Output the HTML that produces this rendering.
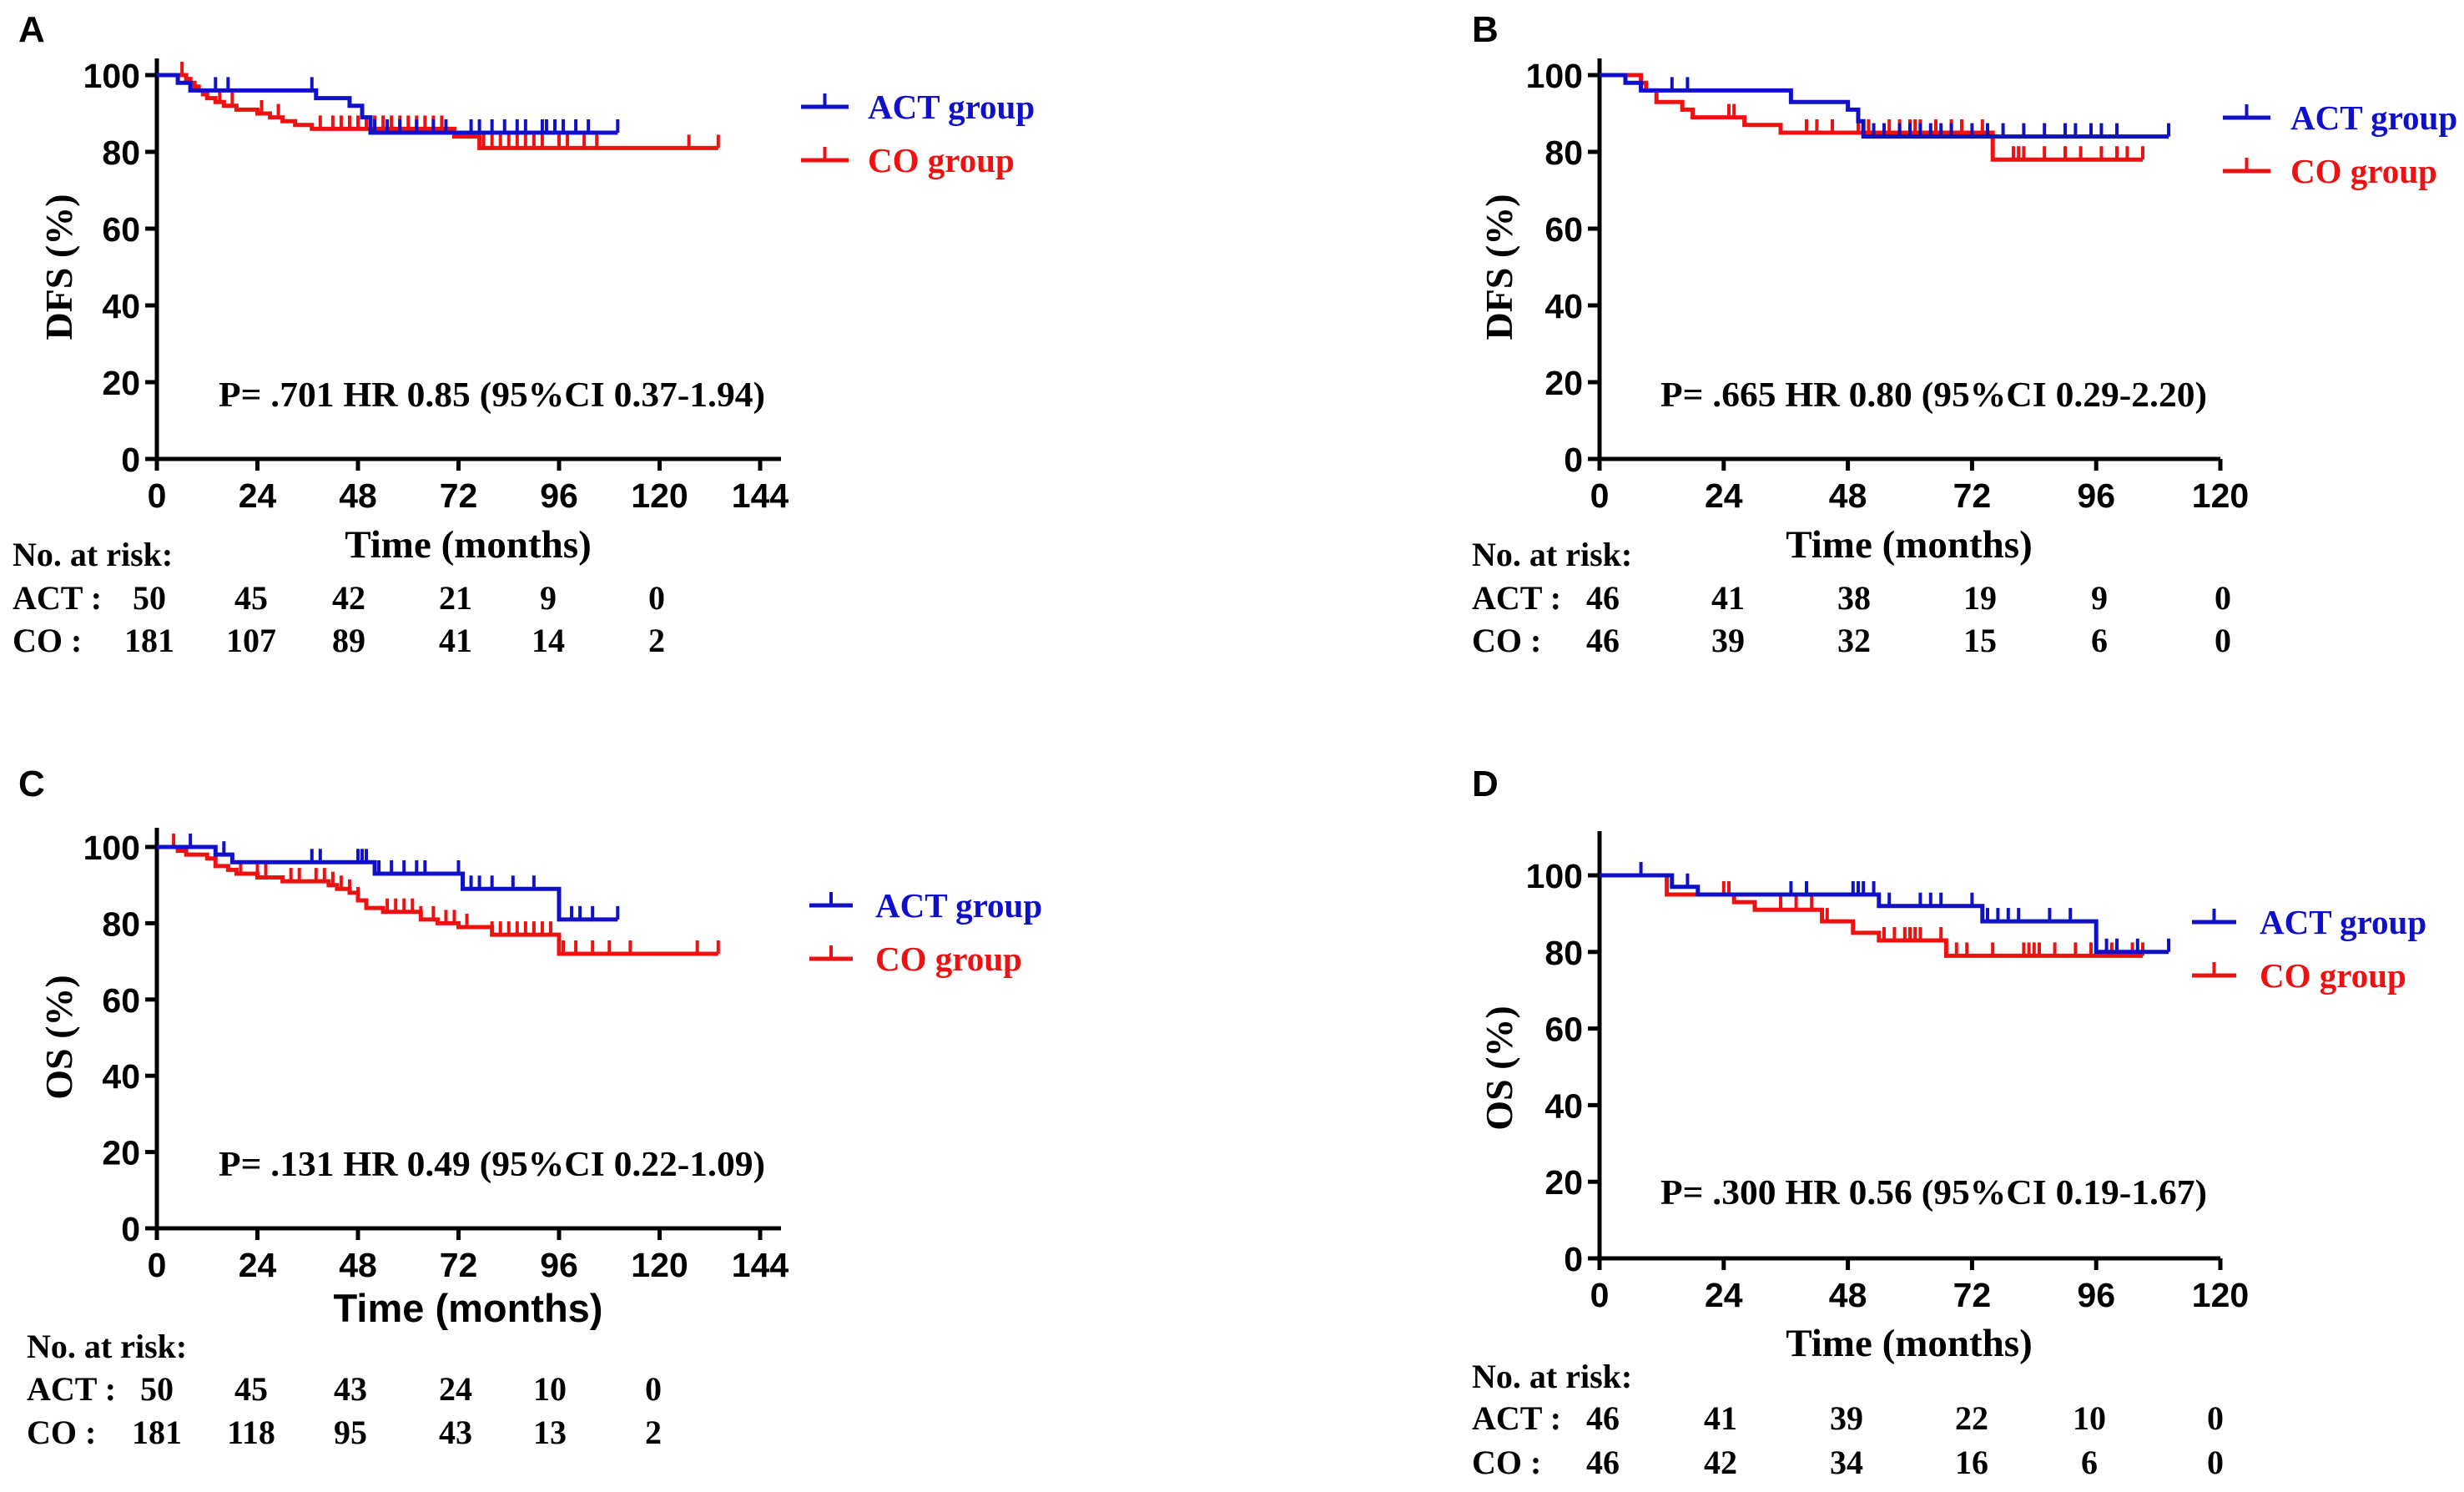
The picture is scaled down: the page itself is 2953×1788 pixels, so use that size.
<!DOCTYPE html>
<html><head><meta charset="utf-8"><style>
html,body{margin:0;padding:0;background:#fff;}
svg{display:block;}
.t{font-family:"Liberation Sans",sans-serif;font-weight:bold;}
.s{font-family:"Liberation Serif",serif;font-weight:bold;}
</style></head><body>
<svg id="fig" width="2953" height="1788" viewBox="0 0 2953 1788" xmlns="http://www.w3.org/2000/svg"></svg>
<script>
// ---- data (time in months, survival %) ----
const aActSteps=[[0,100],[5,98],[8,96],[38,94],[46,92],[49,89],[51,85]];
const aActEnd=110;
const aActCens=[14,17,37,52,55,58,62,66,69,75,77,80,83,86,88,92,93,95,97,100,103,110];
const aCoSteps=[[0,100],[7,99],[8,98],[9,97],[10,96],[11,95],[12,94],[14,93],[16,92],[19,91],[24,90],[27,89],[30,88],[33,87],[37,86],[41,86],[71,84],[77,81]];
const aCoEnd=134;
const aCoCens=[6,15,18,25,29,39,42,44,46,48,50,52,54,56,58,60,62,64,66,68,78,80,82,84,86,88,90,92,96,98,102,105,127,134];

const bActSteps=[[0,100],[5,98],[8,96],[37,93],[48,91],[50,88],[51,84]];
const bActEnd=110;
const bActCens=[14,17,37,53,55,58,60,62,64,66,68,72,75,78,82,86,90,92,95,97,100,110];
const bCoSteps=[[0,100],[8,98],[9,96],[11,93],[16,91],[18,89],[28,87],[35,85],[76,78]];
const bCoEnd=105;
const bCoCens=[25,26,40,42,45,50,52,56,58,60,61,62,65,68,70,74,80,81,82,86,90,93,97,100,102,105];

const cActSteps=[[0,100],[14,98],[18,96],[52,93],[73,89],[96,81]];
const cActEnd=110;
const cActCens=[8,16,37,39,48,49,50,53,56,59,62,64,72,75,77,80,85,90,99,101,104,110];
const cCoSteps=[[0,100],[5,99],[7,98],[12,97],[14,95],[17,94],[19,93],[24,92],[30,91],[41,90],[43,89],[46,88],[48,86],[50,84],[54,83],[63,81],[67,80],[72,79],[80,77],[96,72]];
const cCoEnd=134;
const cCoCens=[4,20,24,26,32,34,38,40,42,44,46,48,55,57,59,61,63,66,69,71,74,80,82,84,86,88,90,92,94,97,100,104,108,113,129,134];

const dActSteps=[[0,100],[14,97],[19,95],[54,92],[74,88],[96,80]];
const dActEnd=110;
const dActCens=[8,17,37,40,49,50,51,53,56,62,64,66,72,75,77,79,81,87,91,98,100,104,110];
const dCoSteps=[[0,100],[13,95],[26,93],[30,91],[43,88],[49,85],[54,83],[67,79]];
const dCoEnd=105;
const dCoCens=[24,25,35,38,41,44,55,57,59,60,61,62,66,69,71,76,82,83,84,85,88,92,95,99,103,105];

const xTicksA=[0,24,48,72,96,120,144];
const xTicksB=[0,24,48,72,96,120];
const yTicks=[0,20,40,60,80,100];
const riskAct_A=["50","45","42","21","9","0"], riskCo_A=["181","107","89","41","14","2"];
const riskAct_B=["46","41","38","19","9","0"], riskCo_B=["46","39","32","15","6","0"];
const riskAct_C=["50","45","43","24","10","0"], riskCo_C=["181","118","95","43","13","2"];
const riskAct_D=["46","41","39","22","10","0"], riskCo_D=["46","42","34","16","6","0"];

const NS="http://www.w3.org/2000/svg";
const svg=document.getElementById('fig');
function mk(tag,attrs,parent){const e=document.createElementNS(NS,tag);for(const k in attrs)e.setAttribute(k,attrs[k]);(parent||svg).appendChild(e);return e;}
function txt(str,x,y,cls,size,fill,anchor,parent){const e=mk('text',{x:x,y:y,class:cls,'font-size':size,fill:fill||'#000','text-anchor':anchor||'start'},parent);e.textContent=str;return e;}

const BLUE='#1010c8', RED='#ee1111';

function panel(cfg){
  const g=mk('g',{});
  
  
  const xs=t=>cfg.x0+(t/cfg.xmax)*(cfg.x1-cfg.x0);
  const ys=v=>cfg.y0-(v/100)*(cfg.y0-cfg.y100);
  const L=txt(cfg.id.toUpperCase(),cfg.letterX,cfg.letterY,'t',44,'#000','start',g);
  
  const ax=mk('path',{d:`M${cfg.x0},${cfg.top} V${cfg.y0} H${cfg.right}`,stroke:'#000','stroke-width':5,fill:'none'},g);
  
  yTicks.forEach(v=>{
    mk('line',{x1:cfg.x0-14,x2:cfg.x0,y1:ys(v),y2:ys(v),stroke:'#000','stroke-width':5},g);
    const t=txt(String(v),cfg.x0-20,ys(v)+15,'t',41,'#000','end',g);
    
  });
  cfg.xt.forEach(v=>{
    mk('line',{x1:xs(v),x2:xs(v),y1:cfg.y0,y2:cfg.y0+14,stroke:'#000','stroke-width':5},g);
    const t=txt(String(v),xs(v),cfg.y0+58,'t',41,'#000','middle',g);
    
  });
  const xt=txt('Time (months)',cfg.titleX,cfg.titleY,cfg.titleCls,47,'#000','middle',g);
  
  const yt=txt(cfg.ylab,0,0,'s',46,'#000','middle',g);
  yt.setAttribute('transform',`translate(${cfg.ytx},${cfg.yty}) rotate(-90)`);
  
  function curve(steps,end,cens,color,name){
    let d=`M${xs(steps[0][0])},${ys(steps[0][1])}`;
    for(let i=1;i<steps.length;i++){d+=` H${xs(steps[i][0])} V${ys(steps[i][1])}`;}
    d+=` H${xs(end)}`;
    const p=mk('path',{d:d,stroke:color,'stroke-width':5,fill:'none'},g);
    
    const survAt=t=>{let v=steps[0][1];for(const s of steps){if(s[0]<=t)v=s[1];}return v;};
    cens.forEach(t=>{
      const c=mk('line',{x1:xs(t),x2:xs(t),y1:ys(survAt(t)),y2:ys(survAt(t))-16,stroke:color,'stroke-width':4},g);
      
    });
  }
  curve(cfg.coS,cfg.coE,cfg.coC,RED,'co-group');
  curve(cfg.actS,cfg.actE,cfg.actC,BLUE,'act-group');
  const pt=txt(cfg.ptext,cfg.px,cfg.py,'s',42,'#000','start',g);
  pt.setAttribute('xml:space','preserve');
  pt.setAttribute('textLength','655');
  pt.setAttribute('lengthAdjust','spacingAndGlyphs');
  
  [[cfg.legY1,BLUE,'ACT group'],[cfg.legY2,RED,'CO group']].forEach(([y,c,lab])=>{
    const lg=mk('g',{},g);
    
    mk('line',{x1:cfg.legX1,x2:cfg.legX2,y1:y,y2:y,stroke:c,'stroke-width':5},lg);
    mk('line',{x1:(cfg.legX1+cfg.legX2)/2,x2:(cfg.legX1+cfg.legX2)/2,y1:y,y2:y-16,stroke:c,'stroke-width':4},lg);
    txt(lab,cfg.legTX,y+14,'s',41,c,'start',lg);
  });
  const r0=txt('No. at risk:',cfg.rx,cfg.ry0,'s',40,'#000','start',g);
  
  txt('ACT :',cfg.rx,cfg.ry1,'s',40,'#000','start',g);
  txt('CO :',cfg.rx,cfg.ry2,'s',40,'#000','start',g);
  cfg.ra.forEach((v,i)=>{const t=txt(v,cfg.rcx[i],cfg.ry1,'s',40,'#000','middle',g);});
  cfg.rc.forEach((v,i)=>{const t=txt(v,cfg.rcx[i],cfg.ry2,'s',40,'#000','middle',g);});
}

panel({id:'a',x0:188,x1:911,xmax:144,right:936,y0:550,y100:90,top:70,xt:xTicksA,letterX:22,letterY:50,
  titleX:561,titleY:668,titleCls:'s',ylab:'DFS (%)',ytx:86,yty:320,
  actS:aActSteps,actE:aActEnd,actC:aActCens,coS:aCoSteps,coE:aCoEnd,coC:aCoCens,
  ptext:'P= .701  HR 0.85 (95%CI 0.37-1.94)',px:262,py:487,
  legX1:960,legX2:1017,legTX:1040,legY1:128,legY2:192,
  rx:15,ry0:678,ry1:730,ry2:781,ra:riskAct_A,rc:riskCo_A,rcx:[179,301,418,546,657,787]});
panel({id:'b',x0:1917,x1:2661,xmax:120,right:2661,y0:550,y100:90,top:70,xt:xTicksB,letterX:1764,letterY:50,
  titleX:2288,titleY:668,titleCls:'s',ylab:'DFS (%)',ytx:1812,yty:320,
  actS:bActSteps,actE:bActEnd,actC:bActCens,coS:bCoSteps,coE:bCoEnd,coC:bCoCens,
  ptext:'P= .665  HR 0.80 (95%CI 0.29-2.20)',px:1990,py:487,
  legX1:2664,legX2:2721,legTX:2745,legY1:141,legY2:205,
  rx:1764,ry0:678,ry1:730,ry2:781,ra:riskAct_B,rc:riskCo_B,rcx:[1921,2071,2222,2373,2516,2664]});
panel({id:'c',x0:188,x1:911,xmax:144,right:936,y0:1472,y100:1015,top:992,xt:xTicksA,letterX:22,letterY:954,
  titleX:561,titleY:1584,titleCls:'t',ylab:'OS (%)',ytx:86,yty:1243,
  actS:cActSteps,actE:cActEnd,actC:cActCens,coS:cCoSteps,coE:cCoEnd,coC:cCoCens,
  ptext:'P= .131  HR 0.49 (95%CI 0.22-1.09)',px:262,py:1409,
  legX1:970,legX2:1022,legTX:1049,legY1:1085,legY2:1149,
  rx:32,ry0:1627,ry1:1678,ry2:1730,ra:riskAct_C,rc:riskCo_C,rcx:[188,301,420,546,659,783]});
panel({id:'d',x0:1917,x1:2661,xmax:120,right:2661,y0:1508,y100:1049,top:996,xt:xTicksB,letterX:1764,letterY:954,
  titleX:2288,titleY:1625,titleCls:'s',ylab:'OS (%)',ytx:1812,yty:1280,
  actS:dActSteps,actE:dActEnd,actC:dActCens,coS:dCoSteps,coE:dCoEnd,coC:dCoCens,
  ptext:'P= .300  HR 0.56 (95%CI 0.19-1.67)',px:1990,py:1443,
  legX1:2627,legX2:2680,legTX:2708,legY1:1105,legY2:1169,
  rx:1764,ry0:1663,ry1:1713,ry2:1766,ra:riskAct_D,rc:riskCo_D,rcx:[1921,2062,2213,2363,2504,2655]});
</script>
</body></html>
